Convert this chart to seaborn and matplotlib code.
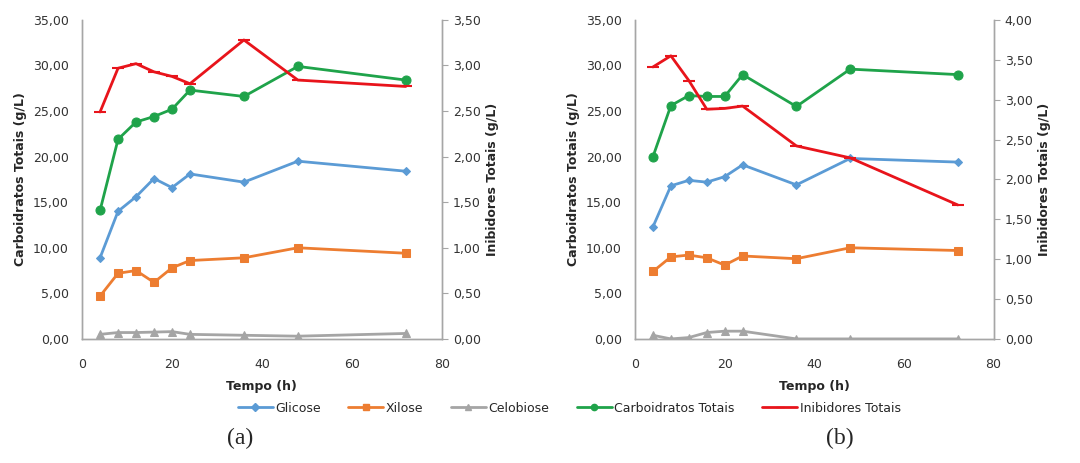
import matplotlib
matplotlib.use("Agg")
import matplotlib.pyplot as plt
from matplotlib.ticker import FuncFormatter, MultipleLocator
from matplotlib.lines import Line2D
import seaborn as sns
import pandas as pd

tempo = [4, 8, 12, 16, 20, 24, 36, 48, 72]

glicose_a = [8.9, 14.0, 15.6, 17.6, 16.6, 18.1, 17.2, 19.5, 18.4]
xilose_a = [4.7, 7.2, 7.5, 6.2, 7.8, 8.6, 8.9, 10.0, 9.4]
celobiose_a = [0.5, 0.7, 0.7, 0.75, 0.8, 0.5, 0.4, 0.3, 0.6]
carb_a = [14.1, 21.9, 23.8, 24.4, 25.2, 27.3, 26.6, 29.9, 28.4]
inib_a = [2.49, 2.97, 3.02, 2.93, 2.88, 2.80, 3.28, 2.84, 2.77]

glicose_b = [12.3, 16.8, 17.4, 17.2, 17.8, 19.1, 16.9, 19.8, 19.4]
xilose_b = [7.4, 9.0, 9.2, 8.9, 8.1, 9.1, 8.8, 10.0, 9.7]
celobiose_b = [0.4, 0.0, 0.15, 0.7, 0.85, 0.85, 0.0, 0.0, 0.0]
carb_b = [20.0, 25.6, 26.7, 26.6, 26.6, 29.0, 25.5, 29.6, 29.0]
inib_b = [3.41, 3.55, 3.24, 2.88, 2.89, 2.92, 2.42, 2.27, 1.68]

series_names = ["Glicose", "Xilose", "Celobiose", "Carboidratos Totais", "Inibidores Totais"]
colors = ["#5B9BD5", "#ED7D31", "#A5A5A5", "#1FA34A", "#E8141B"]
markers = ["D", "s", "^", "o", "_"]
msizes = [4, 6, 6, 6.5, 8]

panel_labels = ["(a)", "(b)"]
right_max = [3.5, 4.0]

sns.set_style("white")
plt.rcParams['font.family'] = ['DejaVu Sans']

fig = plt.figure(figsize=(10.8, 4.63), dpi=100)
axes_pos = [[0.076, 0.268, 0.333, 0.689], [0.588, 0.268, 0.332, 0.689]]

data = [
    (glicose_a, xilose_a, celobiose_a, carb_a, inib_a),
    (glicose_b, xilose_b, celobiose_b, carb_b, inib_b),
]

fmt = FuncFormatter(lambda v, p: f"{v:.2f}".replace(".", ","))
spine_c = "#A6A6A6"
tick_fs = 9

for i, (pos, d) in enumerate(zip(axes_pos, data)):
    ax = fig.add_axes(pos)
    ax2 = ax.twinx()
    for j in range(4):
        df = pd.DataFrame({"t": tempo, "v": d[j]})
        sns.lineplot(data=df, x="t", y="v", ax=ax, color=colors[j], marker=markers[j],
                     markersize=msizes[j], markeredgecolor=colors[j], linewidth=2)
    df = pd.DataFrame({"t": tempo, "v": d[4]})
    sns.lineplot(data=df, x="t", y="v", ax=ax2, color=colors[4], marker=markers[4],
                 markersize=msizes[4], markeredgecolor=colors[4], markeredgewidth=1.5, linewidth=2)

    ax.set_xlim(0, 80)
    ax.set_ylim(0, 35)
    ax.yaxis.set_major_locator(MultipleLocator(5))
    ax.xaxis.set_major_locator(MultipleLocator(20))
    ax.yaxis.set_major_formatter(fmt)
    ax2.set_ylim(0, right_max[i])
    ax2.yaxis.set_major_locator(MultipleLocator(0.5))
    ax2.yaxis.set_major_formatter(fmt)

    ax.set_xlabel("Tempo (h)", fontsize=9, fontweight="bold", labelpad=7)
    ax.set_ylabel("Carboidratos Totais (g/L)", fontsize=9, fontweight="bold", labelpad=4)
    ax2.set_ylabel("Inibidores Totais (g/L)", fontsize=9, fontweight="bold", labelpad=4)

    for a in (ax, ax2):
        a.spines["top"].set_visible(False)
        for s in ("left", "right", "bottom"):
            a.spines[s].set_color(spine_c)
            a.spines[s].set_linewidth(1)
    ax.tick_params(axis="y", left=False, labelsize=tick_fs, colors="#333333", pad=6)
    ax.tick_params(axis="x", bottom=False, labelsize=tick_fs, labelcolor="#333333", pad=10)
    ax2.tick_params(axis="y", right=True, length=4, color=spine_c, labelsize=tick_fs,
                    labelcolor="#333333", pad=4)
    ax.grid(False)
    ax2.grid(False)

    fig.text(0.222 if i == 0 else 0.778, 0.04, panel_labels[i], fontsize=17,
             family="Liberation Serif", ha="center")

handles = [Line2D([0], [0], color=colors[k], marker=markers[k], markersize=max(msizes[k] - 2, 4),
                  markeredgecolor=colors[k], linewidth=2) for k in range(5)]
fig.legend(handles, series_names, loc="center", bbox_to_anchor=(0.527, 0.118), ncol=5,
           frameon=False, fontsize=9, handlelength=2.8, columnspacing=2.2, handletextpad=0.2)

fig.savefig("out.png", dpi=100)
